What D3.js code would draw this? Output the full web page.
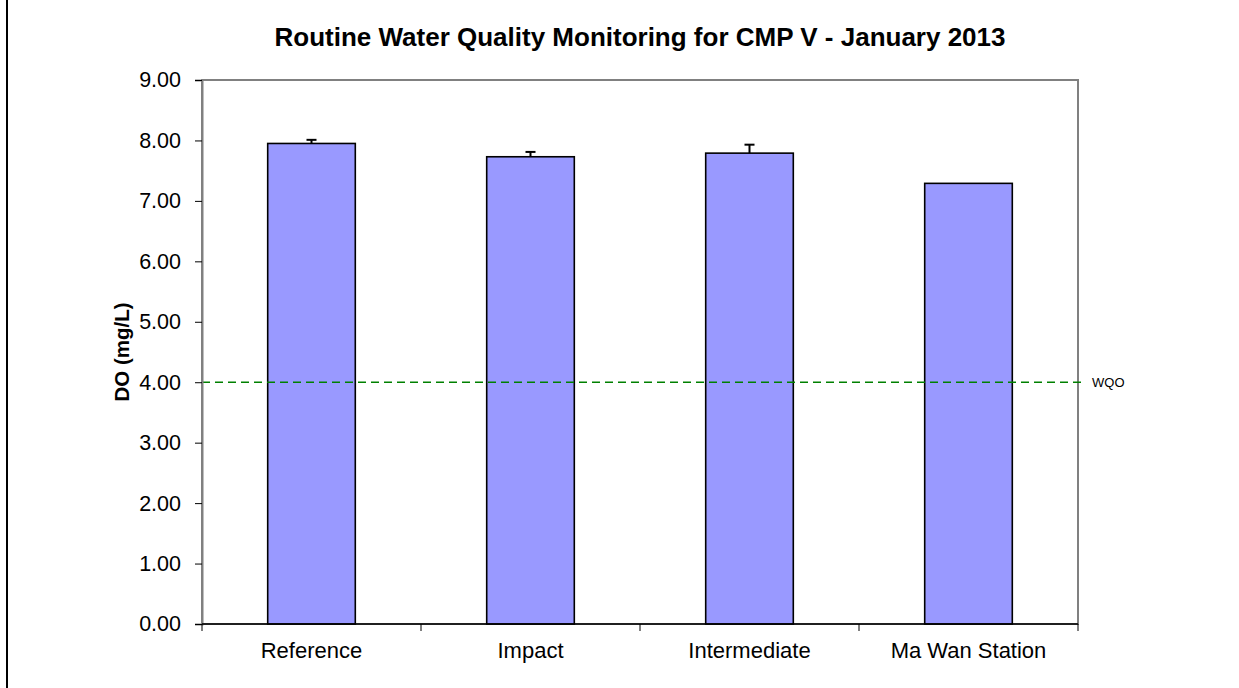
<!DOCTYPE html>
<html>
<head>
<meta charset="utf-8">
<script src="https://cdn.jsdelivr.net/npm/d3@7"></script>
<style>
  body { margin: 0; background: #fff; }
  svg { display: block; font-family: "Liberation Sans", Arial, sans-serif; }
</style>
</head>
<body>
<div id="chart"></div>
<script>
// Data
const categories = ["Reference", "Impact", "Intermediate", "Ma Wan Station"];
const doValues = [7.95, 7.73, 7.79, 7.29];
const doErrors = [0.06, 0.08, 0.14, 0];
const yTicks = [0, 1, 2, 3, 4, 5, 6, 7, 8, 9];
const wqo = 4.0;

const W = 1239, H = 688;
const margin = { top: 80, right: 161, bottom: 64, left: 202 };
const width = W - margin.left - margin.right;
const height = H - margin.top - margin.bottom;

const svg = d3.select("#chart").append("svg")
    .attr("width", W)
    .attr("height", H);

// page frame (left edge only visible)
svg.append("line")
    .attr("x1", 7).attr("x2", 7)
    .attr("y1", 0).attr("y2", H)
    .attr("stroke", "#000").attr("stroke-width", 2);

const g = svg.append("g")
    .attr("transform", `translate(${margin.left},${margin.top})`);

const x = d3.scaleBand()
    .domain(categories)
    .range([0, width])
    .paddingInner(0.6)
    .paddingOuter(0.3);

const y = d3.scaleLinear()
    .domain([0, 9])
    .range([height, 0]);

// plot border
g.append("rect")
    .attr("width", width)
    .attr("height", height)
    .attr("fill", "none")
    .attr("stroke", "#808080")
    .attr("stroke-width", 2);

// bars
g.selectAll(".bar")
    .data(categories)
    .enter()
    .append("rect")
    .attr("class", "bar")
    .attr("x", d => x(d))
    .attr("width", x.bandwidth())
    .attr("y", (d, i) => y(doValues[i]))
    .attr("height", (d, i) => height - y(doValues[i]))
    .attr("fill", "#9999ff")
    .attr("stroke", "#000")
    .attr("stroke-width", 1.6);

// error bars (upper only)
const err = g.selectAll(".err")
    .data(categories.filter((d, i) => doErrors[i] > 0))
    .enter()
    .append("g")
    .attr("class", "err");

err.append("line")
    .attr("x1", d => x(d) + x.bandwidth() / 2)
    .attr("x2", d => x(d) + x.bandwidth() / 2)
    .attr("y1", d => y(doValues[categories.indexOf(d)]))
    .attr("y2", d => { const i = categories.indexOf(d); return y(doValues[i] + doErrors[i]); })
    .attr("stroke", "#000").attr("stroke-width", 2);

err.append("line")
    .attr("x1", d => x(d) + x.bandwidth() / 2 - 5)
    .attr("x2", d => x(d) + x.bandwidth() / 2 + 5)
    .attr("y1", d => { const i = categories.indexOf(d); return y(doValues[i] + doErrors[i]); })
    .attr("y2", d => { const i = categories.indexOf(d); return y(doValues[i] + doErrors[i]); })
    .attr("stroke", "#000").attr("stroke-width", 2);

// WQO line
g.append("line")
    .attr("x1", 0).attr("x2", width + 4)
    .attr("y1", y(wqo)).attr("y2", y(wqo))
    .attr("stroke", "#008000")
    .attr("stroke-width", 1.6)
    .attr("stroke-dasharray", "8,5");

g.append("text")
    .attr("x", width + 14)
    .attr("y", y(wqo) + 5)
    .attr("font-size", 13)
    .attr("fill", "#000")
    .text("WQO");

// y axis
const yAxis = g.append("g")
    .call(d3.axisLeft(y).tickValues(yTicks).tickFormat(d3.format(".2f")).tickSize(7).tickPadding(14));
yAxis.select(".domain").attr("stroke", "#808080").attr("stroke-width", 2);
yAxis.selectAll(".tick line").attr("stroke", "#000");
yAxis.selectAll(".tick text").attr("font-size", 21.5).attr("fill", "#000")
    .attr("font-family", "Liberation Sans, Arial, sans-serif");

// x axis with ticks at category boundaries
const xAxisG = g.append("g").attr("transform", `translate(0,${height})`);
xAxisG.append("line")
    .attr("x1", 0).attr("x2", width)
    .attr("stroke", "#000").attr("stroke-width", 1.5);
const step = width / categories.length;
xAxisG.selectAll(".xt")
    .data(d3.range(categories.length + 1))
    .enter()
    .append("line")
    .attr("x1", d => d * step).attr("x2", d => d * step)
    .attr("y1", 0).attr("y2", 7)
    .attr("stroke", "#000");
xAxisG.selectAll(".xl")
    .data(categories)
    .enter()
    .append("text")
    .attr("x", d => x(d) + x.bandwidth() / 2)
    .attr("y", 34)
    .attr("text-anchor", "middle")
    .attr("font-size", 22)
    .text(d => d);

// y label
svg.append("text")
    .attr("transform", `translate(129,${margin.top + height / 2}) rotate(-90)`)
    .attr("text-anchor", "middle")
    .attr("font-size", 20.5)
    .attr("font-weight", "bold")
    .text("DO (mg/L)");

// title
svg.append("text")
    .attr("x", margin.left + width / 2)
    .attr("y", 46)
    .attr("text-anchor", "middle")
    .attr("font-size", 26)
    .attr("font-weight", "bold")
    .text("Routine Water Quality Monitoring for CMP V - January 2013");
</script>
</body>
</html>
